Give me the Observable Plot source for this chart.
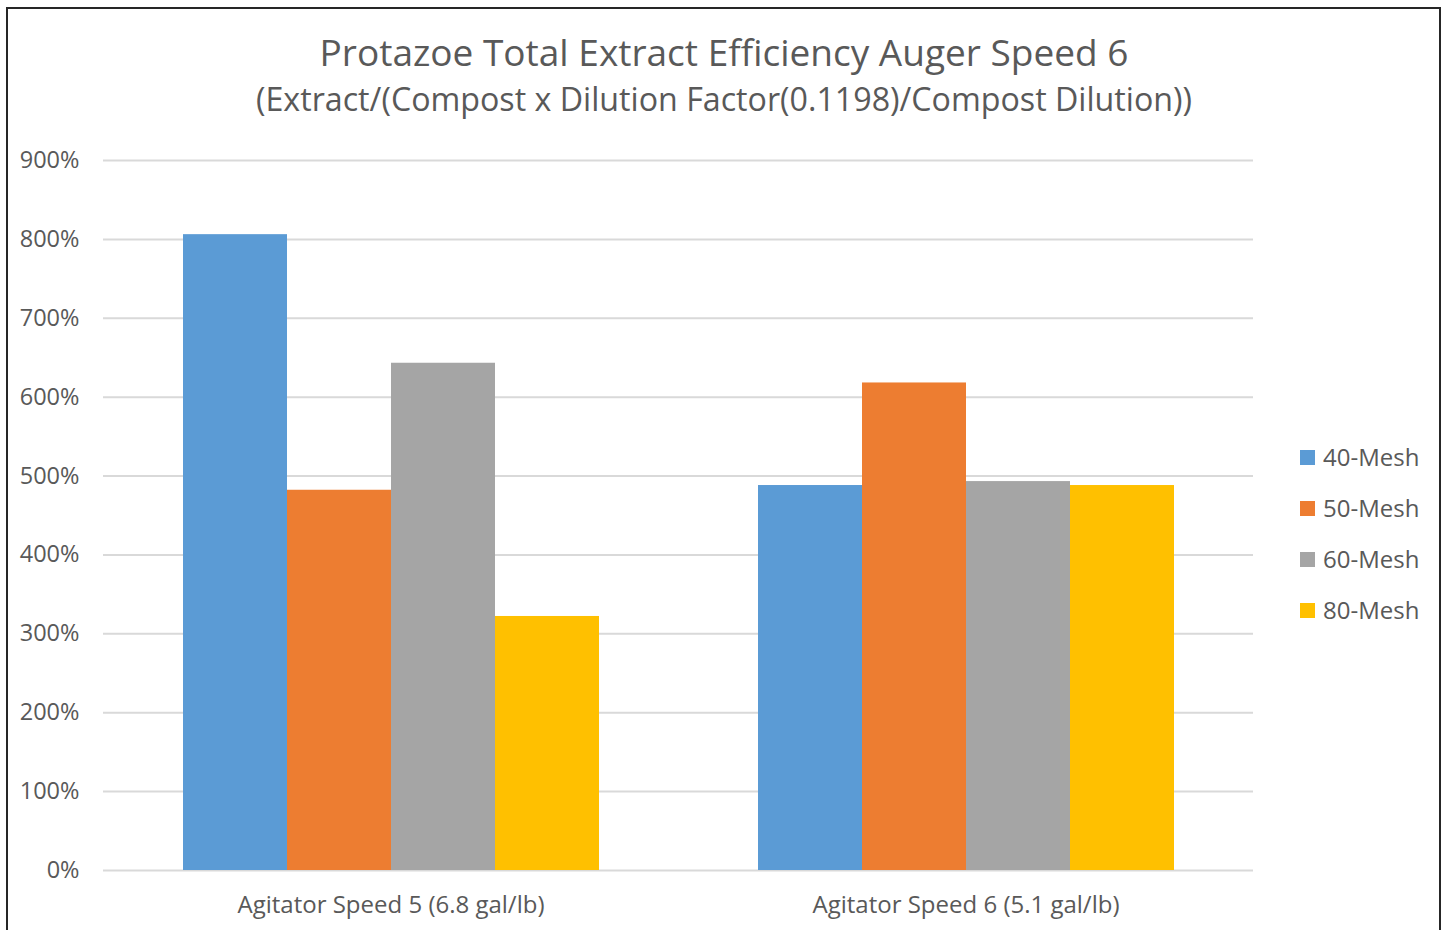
<!DOCTYPE html>
<html>
<head>
<meta charset="utf-8">
<script src="https://cdn.jsdelivr.net/npm/d3@7"></script>
<script src="https://cdn.jsdelivr.net/npm/@observablehq/plot@0.6"></script>
<style>
  html, body { margin: 0; padding: 0; background: #fff; width: 1444px; height: 930px; overflow: hidden; }
  #frame { position: absolute; left: 6px; top: 7px; width: 1435px; height: 960px; border: 2.5px solid #262626; box-sizing: border-box; }
  .title { position: absolute; left: 2px; width: 1444px; text-align: center; color: #595959; font-family: "Open Sans", sans-serif; white-space: nowrap; line-height: 1; }
  #t1 { top: 33px; font-size: 37px; }
  #t2 { top: 83px; font-size: 32.2px; }
  #chart { position: absolute; left: 0; top: 0; }
  #legend { position: absolute; left: 1300px; top: 441px; font-family: "Open Sans", sans-serif; font-size: 24px; color: #595959; }
  #legend .item { height: 51px; display: flex; align-items: flex-start; line-height: 32px; }
  #legend .sw { width: 15px; height: 15px; margin-top: 9px; margin-right: 8px; }
</style>
</head>
<body>
<div id="frame"></div>
<div id="t1" class="title">Protazoe Total Extract Efficiency Auger Speed 6</div>
<div id="t2" class="title">(Extract/(Compost x Dilution Factor(0.1198)/Compost Dilution))</div>
<div id="chart"></div>
<div id="legend"></div>
<script>
const groups = ["Agitator Speed 5 (6.8 gal/lb)", "Agitator Speed 6 (5.1 gal/lb)"];
const meshes = ["40-Mesh", "50-Mesh", "60-Mesh", "80-Mesh"];
const speed5 = [806, 482, 643, 322];
const speed6 = [488, 618, 493, 488];
const colors = ["#5B9BD5", "#ED7D31", "#A5A5A5", "#FFC000"];
const yTicks = [0, 100, 200, 300, 400, 500, 600, 700, 800, 900];

const data = [];
meshes.forEach((m, i) => {
  data.push({group: groups[0], mesh: m, value: speed5[i]});
  data.push({group: groups[1], mesh: m, value: speed6[i]});
});

const plot = Plot.plot({
  width: 1444,
  height: 930,
  marginLeft: 103,
  marginRight: 191,
  marginTop: 160,
  marginBottom: 60,
  style: {fontFamily: "'Open Sans', sans-serif", color: "#595959", background: "transparent"},
  fx: {domain: groups, padding: 0, label: null},
  x: {domain: meshes, paddingInner: 0, paddingOuter: 0.76, axis: null},
  y: {domain: [0, 900], label: null},
  color: {domain: meshes, range: colors},
  marks: [
    Plot.gridY(yTicks, {stroke: "#d9d9d9", strokeOpacity: 1, strokeWidth: 2}),
    Plot.barY(data, {fx: "group", x: "mesh", y: "value", fill: "mesh"}),
    Plot.axisY(yTicks, {tickSize: 0, tickPadding: 24, tickFormat: d => d + "%", fontSize: 23.5, fill: "#595959", label: null}),
    Plot.axisFx({anchor: "bottom", tickSize: 0, tickPadding: 25, fontSize: 24, fill: "#595959", label: null})
  ]
});
document.getElementById("chart").appendChild(plot);

const legend = document.getElementById("legend");
meshes.forEach((m, i) => {
  const it = document.createElement("div");
  it.className = "item";
  it.innerHTML = `<div class="sw" style="background:${colors[i]}"></div><div>${m}</div>`;
  legend.appendChild(it);
});
</script>
</body>
</html>
